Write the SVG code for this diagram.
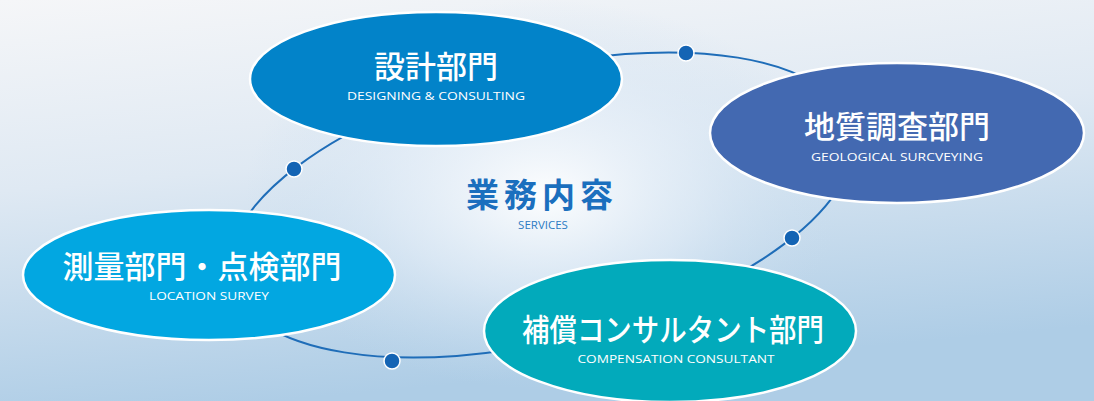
<svg xmlns="http://www.w3.org/2000/svg" width="1094" height="401" viewBox="0 0 1094 401">
  <defs>
    <linearGradient id="bg" x1="0" y1="0" x2="0.25" y2="1">
      <stop offset="0" stop-color="#f5f6f8"/>
      <stop offset="0.45" stop-color="#dfe9f3"/>
      <stop offset="1" stop-color="#aecde6"/>
    </linearGradient>
    <radialGradient id="glow" cx="545" cy="195" r="300" gradientUnits="userSpaceOnUse" gradientTransform="translate(545 195) scale(1 0.65) translate(-545 -195)">
      <stop offset="0" stop-color="#ffffff" stop-opacity="0.95"/>
      <stop offset="0.5" stop-color="#e4eef8" stop-opacity="0.6"/>
      <stop offset="1" stop-color="#c6dcef" stop-opacity="0"/>
    </radialGradient>
    <style>
      .node ellipse { stroke: #ffffff; stroke-width: 2.5; }
      .jp { font-family: "Noto Sans CJK JP", "Noto Sans", sans-serif; font-weight: 500; fill: #ffffff; text-anchor: middle; font-size: 31px; }
      .en { font-family: "Open Sans", "Liberation Sans", sans-serif; fill: #ffffff; text-anchor: middle; font-size: 11.5px; }
      .ring { fill: none; stroke: #1f6db8; stroke-width: 2; }
      .dot { fill: #1464b4; stroke: #ffffff; stroke-width: 1.5; }
    </style>
  </defs>
  <rect width="1094" height="401" fill="url(#bg)"/>
  <rect width="1094" height="401" fill="url(#glow)"/>

  <g id="connectors">
    <ellipse class="ring" cx="541" cy="205" rx="320" ry="136" transform="rotate(-13.8 541 205)"/>
    <circle class="dot" cx="686" cy="53" r="8"/>
    <circle class="dot" cx="294" cy="169" r="8"/>
    <circle class="dot" cx="792" cy="238" r="8"/>
    <circle class="dot" cx="392" cy="361" r="8"/>
  </g>

  <g id="center">
    <text x="542" y="207" font-family="Noto Sans CJK JP, sans-serif" font-weight="700" font-size="33" fill="#1b6fbe" text-anchor="middle" letter-spacing="5">業務内容</text>
    <text x="543" y="229" font-family="Open Sans, Liberation Sans, sans-serif" font-size="11.5" fill="#2b7bc3" text-anchor="middle">SERVICES</text>
  </g>

  <g id="node-design" class="node">
    <ellipse cx="436" cy="79" rx="186" ry="67" fill="#0283c9"/>
    <text class="jp" x="436" y="78">設計部門</text>
    <text class="en" x="436" y="100" textLength="178" lengthAdjust="spacingAndGlyphs">DESIGNING &amp; CONSULTING</text>
  </g>

  <g id="node-geology" class="node">
    <ellipse cx="897" cy="133" rx="187" ry="70" fill="#4369b1"/>
    <text class="jp" x="897" y="138">地質調査部門</text>
    <text class="en" x="897" y="161" textLength="172" lengthAdjust="spacingAndGlyphs">GEOLOGICAL SURCVEYING</text>
  </g>

  <g id="node-survey" class="node">
    <ellipse cx="209" cy="275" rx="186" ry="65" fill="#02a7e1"/>
    <text class="jp" x="202" y="278">測量部門・点検部門</text>
    <text class="en" x="209" y="300" textLength="120" lengthAdjust="spacingAndGlyphs">LOCATION SURVEY</text>
  </g>

  <g id="node-compensation" class="node">
    <ellipse cx="670" cy="331" rx="186" ry="71" fill="#02aabb"/>
    <text class="jp" x="673" y="341" textLength="302" lengthAdjust="spacingAndGlyphs">補償コンサルタント部門</text>
    <text class="en" x="676" y="363" textLength="197" lengthAdjust="spacingAndGlyphs">COMPENSATION CONSULTANT</text>
  </g>
</svg>
